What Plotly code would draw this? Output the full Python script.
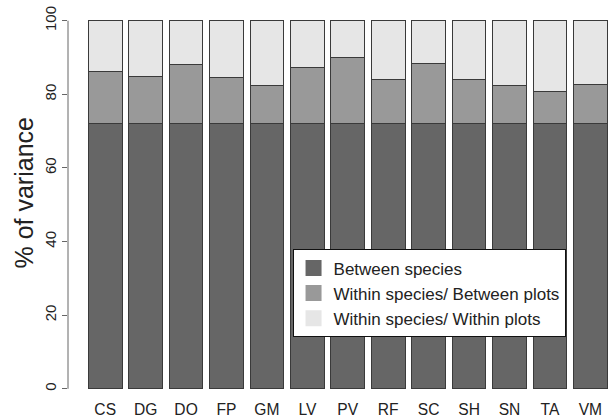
import plotly.graph_objects as go

species = ["CS", "DG", "DO", "FP", "GM", "LV", "PV", "RF", "SC", "SH", "SN", "TA", "VM"]
between_species = [72, 72, 72, 72, 72, 72, 72, 72, 72, 72, 72, 72, 72]
within_between_plots = [14.3, 12.9, 16.2, 12.6, 10.3, 15.3, 17.9, 12.1, 16.3, 11.9, 10.3, 8.9, 10.7]
within_within_plots = [13.7, 15.1, 11.8, 15.4, 17.7, 12.7, 10.1, 15.9, 11.7, 16.1, 17.7, 19.1, 17.3]
series_names = ["Between species", "Within species/ Between plots", "Within species/ Within plots"]
y_ticks = [0, 20, 40, 60, 80, 100]

colors = ["#666666", "#999999", "#e6e6e6"]
FONT = "Liberation Sans, Arial, sans-serif"

fig = go.Figure()
for name, vals, col in zip(series_names, [between_species, within_between_plots, within_within_plots], colors):
    fig.add_trace(go.Bar(
        x=species, y=vals, name=name, width=0.833,
        marker=dict(color=col, line=dict(color="#3a3a3a", width=1)),
        showlegend=False, hoverinfo="skip",
    ))
for name, col in zip(series_names, colors):
    fig.add_trace(go.Scatter(
        x=[None], y=[None], mode="markers", name=name,
        marker=dict(symbol="square", size=16, color=col, line=dict(width=0)),
    ))

fig.update_layout(
    width=613, height=419,
    margin=dict(l=68, r=0, t=6, b=21),
    barmode="stack",
    plot_bgcolor="white", paper_bgcolor="white",
    font=dict(family=FONT, color="#222222"),
    xaxis=dict(
        type="category", range=[-0.92, 12.56], showline=False, showgrid=False,
        zeroline=False, ticks="", tickfont=dict(size=15.6, color="#222222"),
        automargin=False,
    ),
    yaxis=dict(
        range=[-2.5, 104], tickvals=y_ticks, showgrid=False, zeroline=False,
        showline=False, ticks="outside", ticklen=5, tickcolor="#666666",
        tickangle=-90, tickfont=dict(size=15, color="#222222"), automargin=False,
    ),
    legend=dict(
        x=0.412, y=0.379, xanchor="left", yanchor="top", traceorder="normal",
        bgcolor="white", bordercolor="#111111", borderwidth=1,
        font=dict(size=17, color="#222222"), tracegroupgap=0,
    ),
    annotations=[dict(
        text="% of variance", xref="paper", yref="paper", x=-0.0807, y=0.5217,
        xanchor="center", yanchor="middle", textangle=-90, showarrow=False,
        font=dict(size=25, color="#222222"),
    )],
    shapes=[dict(type="line", xref="paper", yref="y", x0=0, x1=0, y0=0, y1=100,
                 line=dict(color="#666666", width=1))],
)

fig.write_html("out.html", config={"displayModeBar": False},
               post_script="document.body.style.margin='0';document.body.style.overflow='hidden';")
